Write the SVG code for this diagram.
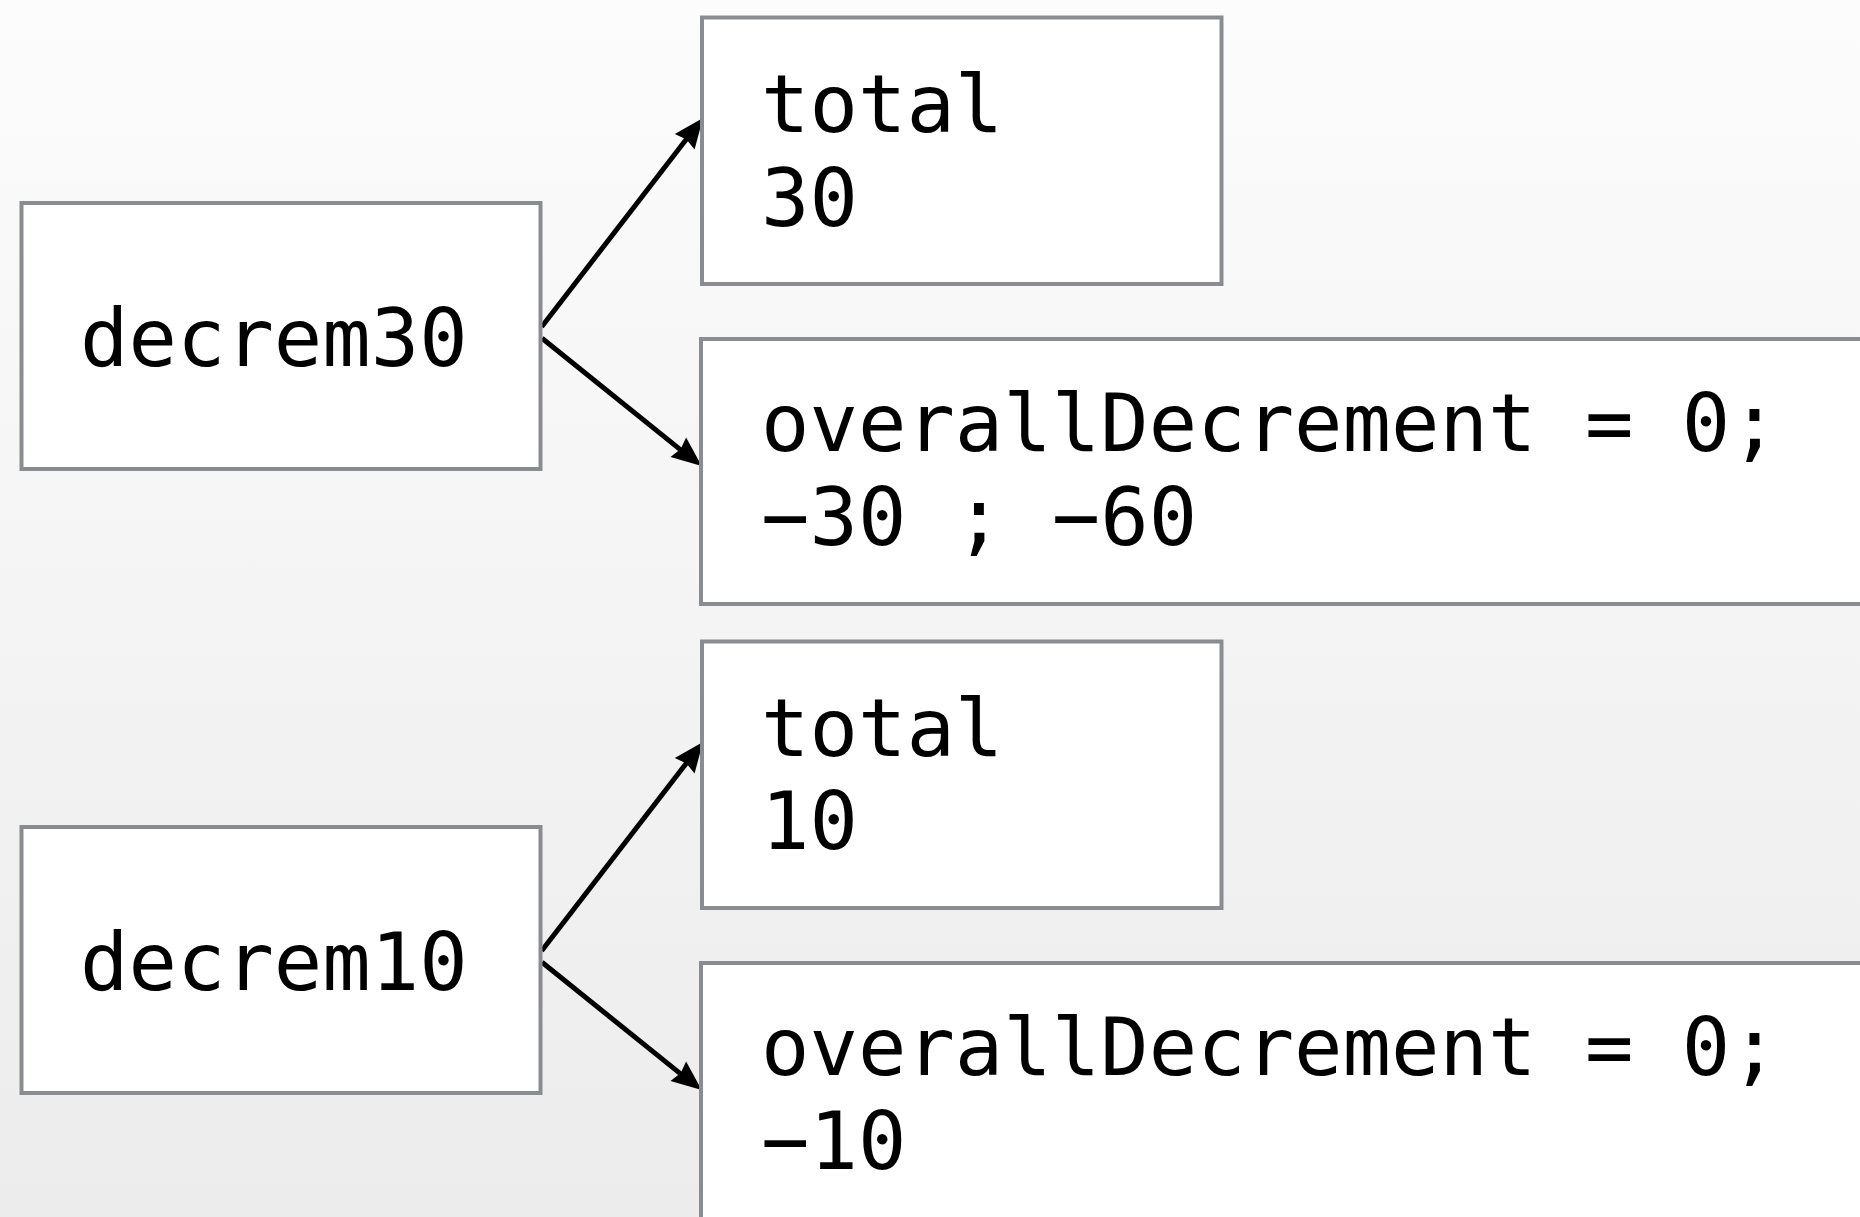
<svg xmlns="http://www.w3.org/2000/svg" xmlns:xlink="http://www.w3.org/1999/xlink" width="1860" height="1217" viewBox="0 0 1860 1217">
  <style>
    .box { fill: #ffffff; stroke: #898c90; stroke-width: 4; }
    .lbl { font-family: "DejaVu Sans Mono", "Liberation Mono", monospace; font-size: 80.5px; fill: #000000; }
    .edge { fill: none; stroke: #000000; stroke-width: 5; }
    .head { fill: #000000; stroke: none; }
  </style>
  <defs>
    <linearGradient id="bg" x1="0" y1="0" x2="0" y2="1">
      <stop offset="0" stop-color="#fcfcfc"/>
      <stop offset="1" stop-color="#ececec"/>
    </linearGradient>
    <path id="ah" class="head" d="M0,0 L-30,-12.5 L-27,0 L-30,12.5 Z"/>
  </defs>
  <rect x="0" y="0" width="1860" height="1217" fill="url(#bg)"/>

  <g id="connectors">
    <path class="edge" d="M541.7,326.7 L690,134.5"/>
    <use xlink:href="#ah" href="#ah" transform="translate(703,118) rotate(-52.35)"/>
    <path class="edge" d="M542,338.3 L685,453.4"/>
    <use xlink:href="#ah" href="#ah" transform="translate(701.7,466) rotate(38.8)"/>
    <path class="edge" d="M541.7,950.7 L690,758.5"/>
    <use xlink:href="#ah" href="#ah" transform="translate(703,742) rotate(-52.35)"/>
    <path class="edge" d="M542,962.3 L685,1077.4"/>
    <use xlink:href="#ah" href="#ah" transform="translate(701.7,1090) rotate(38.8)"/>
  </g>

  <g id="decrem30">
    <rect class="box" x="21.5" y="203" width="519" height="266"/>
    <text class="lbl" x="80" y="366">decrem30</text>
  </g>
  <g id="total30">
    <rect class="box" x="702" y="17.5" width="519.5" height="266.5"/>
    <text class="lbl" x="761" y="132">total</text>
    <text class="lbl" x="761" y="226">30</text>
  </g>
  <g id="overall30">
    <rect class="box" x="701" y="339" width="1200" height="265"/>
    <text class="lbl" x="761" y="451">overallDecrement = 0;</text>
    <text class="lbl" x="761" y="545">−30 ; −60</text>
  </g>
  <g id="decrem10">
    <rect class="box" x="21.5" y="827" width="519" height="266"/>
    <text class="lbl" x="80" y="990">decrem10</text>
  </g>
  <g id="total10">
    <rect class="box" x="702" y="641.5" width="519.5" height="266.5"/>
    <text class="lbl" x="761" y="756">total</text>
    <text class="lbl" x="761" y="849">10</text>
  </g>
  <g id="overall10">
    <rect class="box" x="701" y="963" width="1200" height="300"/>
    <text class="lbl" x="761" y="1075">overallDecrement = 0;</text>
    <text class="lbl" x="761" y="1169">−10</text>
  </g>
</svg>
